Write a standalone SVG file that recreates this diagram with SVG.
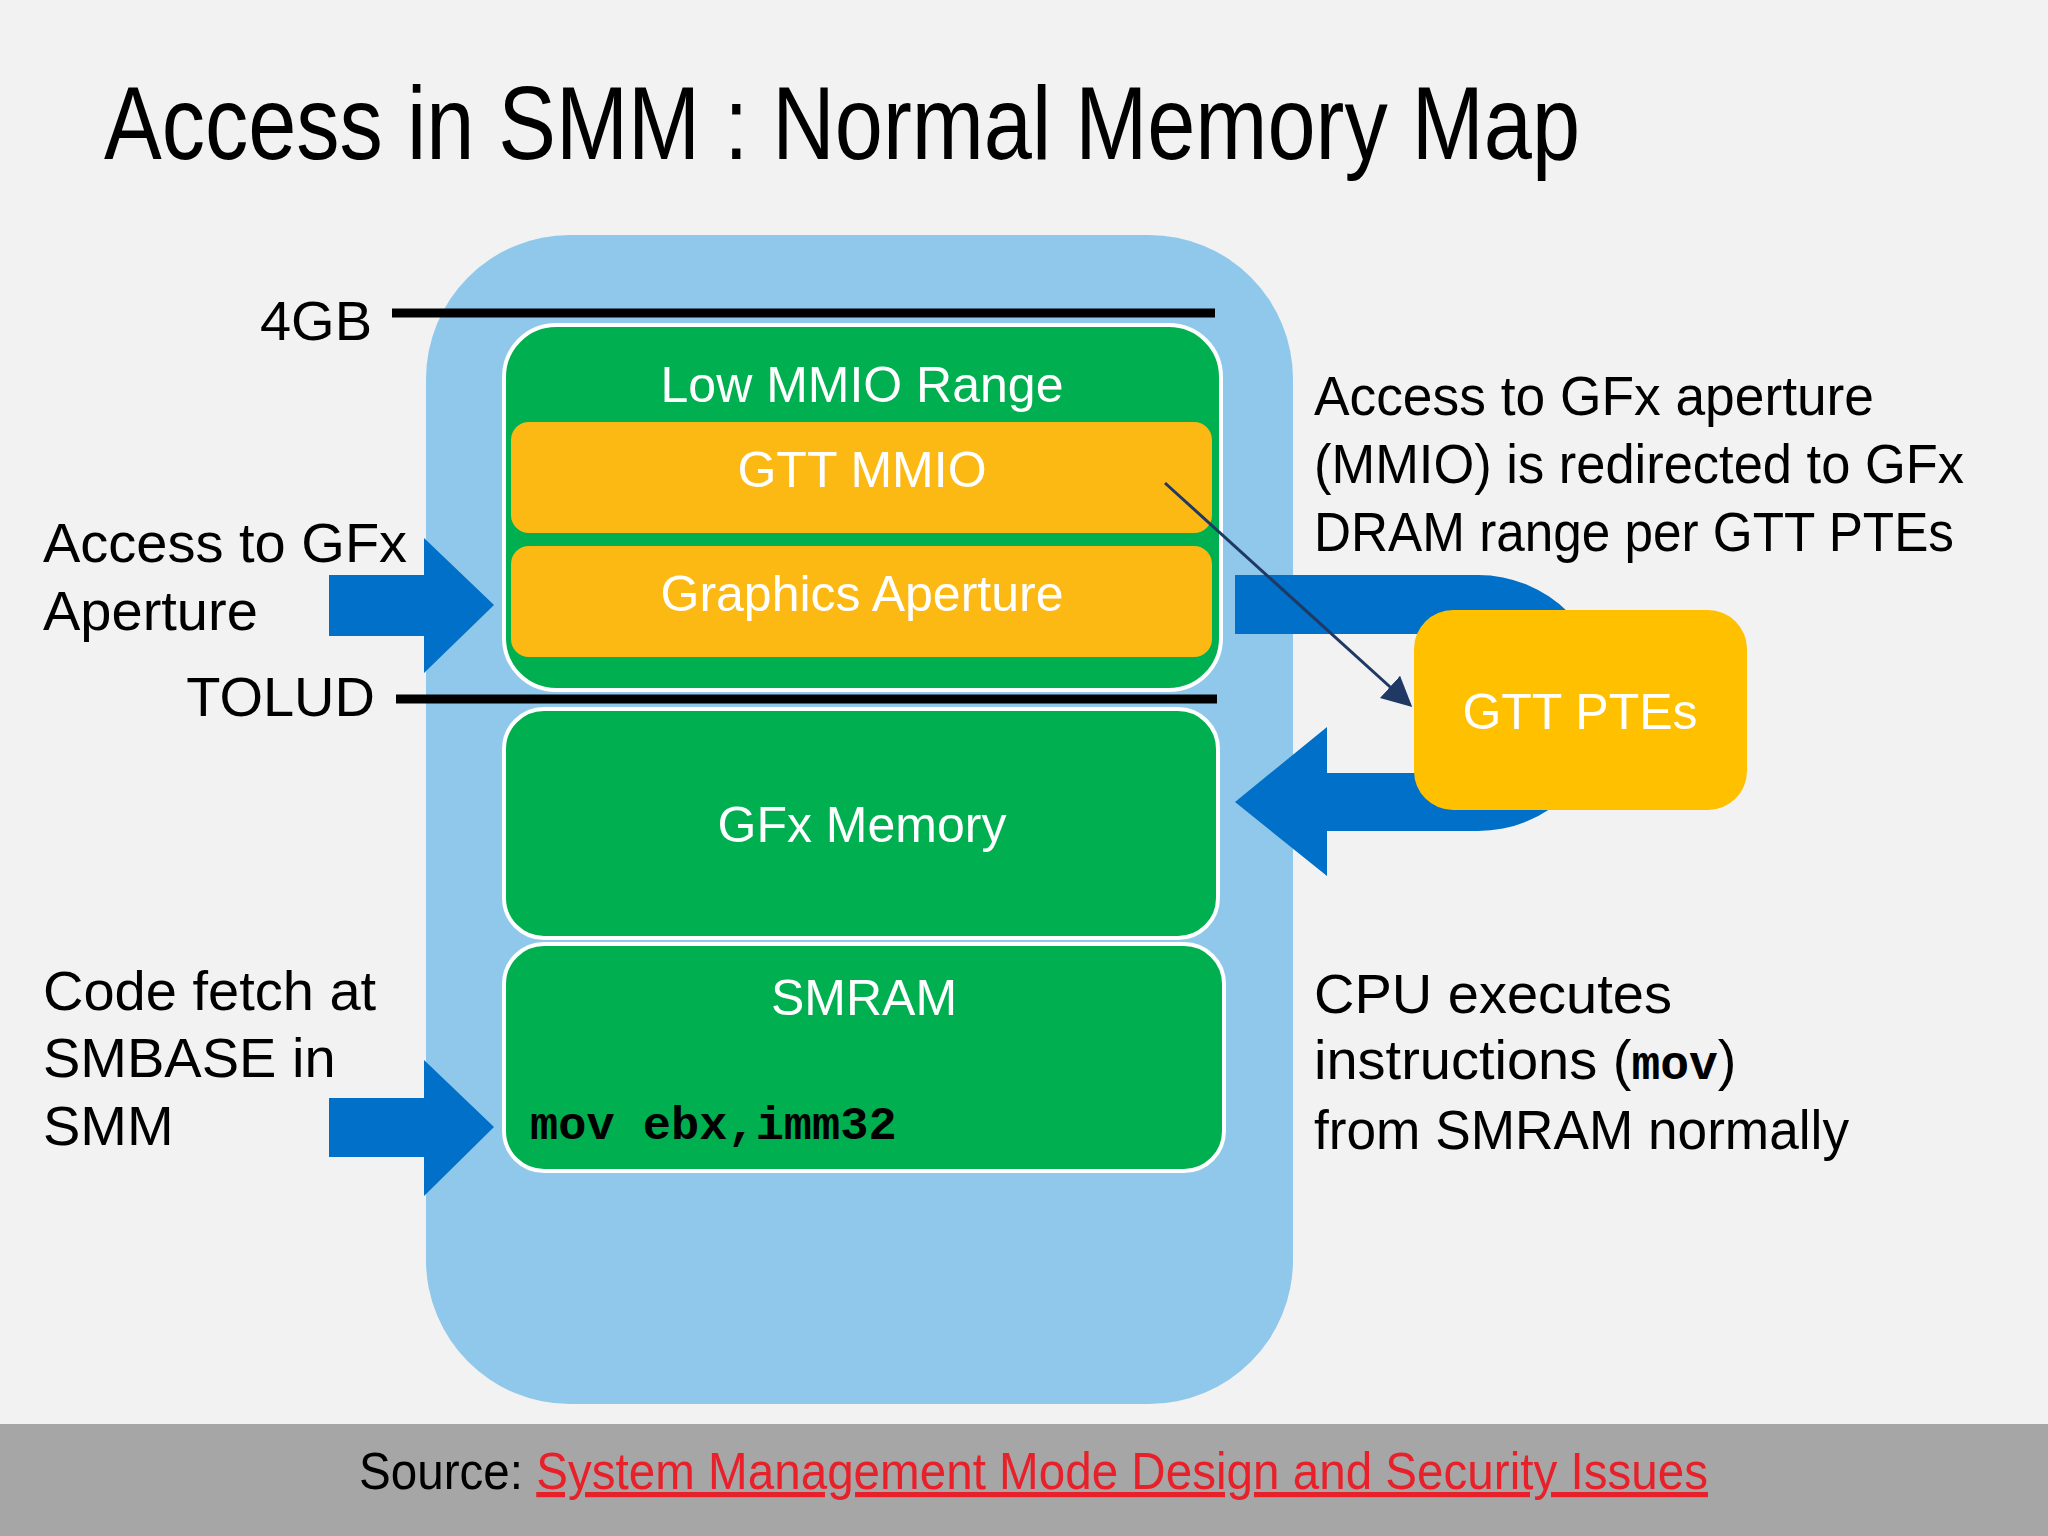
<svg xmlns="http://www.w3.org/2000/svg" width="2048" height="1536" viewBox="0 0 2048 1536">
<defs>
<style>
.t{font-family:"Liberation Sans",Arial,sans-serif}
.w{fill:#fff;font-size:50px;text-anchor:middle}
.k{fill:#000;font-size:56px}
.g{fill:#00b050;stroke:#fff;stroke-width:4}
.o{fill:#fdb913}
.b{fill:#0070c8}
</style>
<marker id="ah" markerWidth="10" markerHeight="10" refX="9" refY="5" orient="auto" markerUnits="strokeWidth"><path d="M0,0 L10,5 L0,10 Z" fill="#1f3864"/></marker>
</defs>
<rect width="2048" height="1536" fill="#f2f2f2"/>
<rect y="1424" width="2048" height="112" fill="#a6a6a6"/>
<text class="t" x="104" y="159" font-size="104" textLength="1476" lengthAdjust="spacingAndGlyphs" fill="#000">Access in SMM : Normal Memory Map</text>
<rect x="426" y="235" width="867" height="1169" rx="144" fill="#8fc8ea"/>
<g id="arrows-in">
<path class="b" d="M329,575 H424 V538 L494,605 L424,673 V636 H329 Z"/>
<path class="b" d="M329,1098 H424 V1060 L494,1127 L424,1196 V1157 H329 Z"/>
<path class="b" d="M1235,575 H1478 A128,128 0 0 1 1478,831 H1327 V876 L1235,802 L1327,727 V773 H1478 A69.5,69.5 0 0 0 1478,634 H1235 Z"/>
</g>
<g id="lines">
<line x1="392" y1="313" x2="1215" y2="313" stroke="#000" stroke-width="9"/>
<line x1="396" y1="699" x2="1217" y2="699" stroke="#000" stroke-width="9"/>
<text class="t k" x="372" y="340" text-anchor="end" font-size="52">4GB</text>
<text class="t k" x="375" y="716" text-anchor="end" font-size="52">TOLUD</text>
</g>
<g id="lowmmio"><rect class="g" x="504" y="325" width="717" height="365" rx="52"/>
<text class="t w" x="862" y="402">Low MMIO Range</text></g>
<g id="gttmmio"><rect class="o" x="511" y="422" width="701" height="111" rx="18"/>
<text class="t w" x="862" y="487">GTT MMIO</text></g>
<g id="aperture"><rect class="o" x="511" y="546" width="701" height="111" rx="18"/>
<text class="t w" x="862" y="611">Graphics Aperture</text></g>
<g id="gfxmem"><rect class="g" x="504" y="709" width="714" height="229" rx="40"/>
<text class="t w" x="862" y="842">GFx Memory</text></g>
<g id="smram"><rect class="g" x="504" y="944" width="720" height="227" rx="40"/>
<text class="t w" x="864" y="1015">SMRAM</text>
<text x="530" y="1139" font-family="'Liberation Mono',monospace" font-weight="bold" font-size="47" fill="#000">mov ebx,imm32</text></g>
<g id="gttptes"><rect x="1414" y="610" width="333" height="200" rx="39" fill="#ffc000"/>
<text class="t w" x="1580" y="729">GTT PTEs</text></g>
<g id="connectors"><line x1="1165" y1="483" x2="1410" y2="705" stroke="#1f3864" stroke-width="3" marker-end="url(#ah)"/></g>
<g id="labels" class="t">
<text class="k" x="43" y="562">Access to GFx</text>
<text class="k" x="43" y="630">Aperture</text>
<text class="k" x="43" y="1010">Code fetch at</text>
<text class="k" x="43" y="1077">SMBASE in</text>
<text class="k" x="43" y="1145">SMM</text>
<text class="k" x="1314" y="415" textLength="560" lengthAdjust="spacingAndGlyphs">Access to GFx aperture</text>
<text class="k" x="1314" y="483" textLength="650" lengthAdjust="spacingAndGlyphs">(MMIO) is redirected to GFx</text>
<text class="k" x="1314" y="551" textLength="640" lengthAdjust="spacingAndGlyphs">DRAM range per GTT PTEs</text>
<text class="k" x="1314" y="1013">CPU executes</text>
<text class="k" x="1314" y="1079">instructions (<tspan font-family="'Liberation Mono',monospace" font-weight="bold" font-size="48">mov</tspan>)</text>
<text class="k" x="1314" y="1149" textLength="535" lengthAdjust="spacingAndGlyphs">from SMRAM normally</text>
</g>
<text class="t" x="359" y="1489" font-size="52" textLength="1349" lengthAdjust="spacingAndGlyphs"><tspan fill="#000">Source: </tspan><tspan fill="#e8202a" text-decoration="underline">System Management Mode Design and Security Issues</tspan></text>
</svg>
